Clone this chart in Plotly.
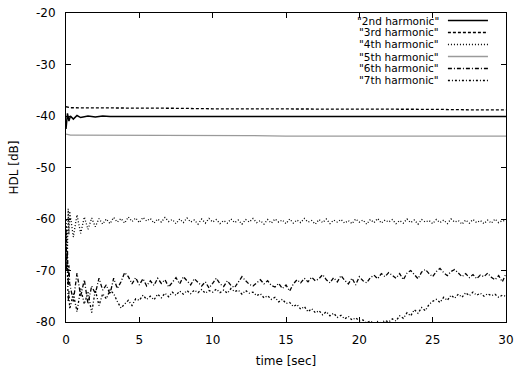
import numpy as np
import plotly.graph_objects as go

# ---- data ----
# fine time grid (sec) for the noisy harmonics
time_early = [0.0, 0.05, 0.1, 0.15, 0.2]
time_fine = time_early + [round(v, 2) for v in np.arange(0.25, 30.001, 0.25)]
# coarse time grid for the nearly constant harmonics
time_coarse = [0, 0.1, 0.2, 0.3, 0.5, 0.75, 1, 1.5, 2, 2.5, 3, 5, 7.5, 10,
               12.5, 15, 17.5, 20, 22.5, 25, 27.5, 30]

h2 = [-42.5, -39.5, -41.0, -40.0, -40.6, -39.9, -40.3, -40.0, -40.2, -40.0, -40.1,
      -40.1, -40.1, -40.1, -40.1, -40.1, -40.1, -40.1, -40.1, -40.1, -40.1, -40.1]
h3 = [-38.2, -38.3, -38.3, -38.4, -38.4, -38.4, -38.4, -38.4, -38.4, -38.5, -38.5,
      -38.5, -38.5, -38.6, -38.6, -38.6, -38.7, -38.7, -38.7, -38.7, -38.8, -38.8]
h5 = [-43.5, -43.6, -43.7, -43.7, -43.7, -43.7, -43.7, -43.7, -43.7, -43.7, -43.8,
      -43.8, -43.8, -43.8, -43.8, -43.9, -43.9, -43.9, -43.8, -43.9, -43.9, -43.9]

h4 = [-70, -62, -66, -58, -63,
      -58.5, -63.5, -59.2, -62.8, -59.6, -62.0, -59.8, -61.5, -59.9, -61.0,
      -60.0, -60.9, -59.7, -60.6, -59.9, -60.8, -59.6, -60.5, -59.8, -60.7,
      -59.7, -60.4, -59.9, -60.8, -60.0, -60.6, -59.7, -60.5, -60.1, -60.9,
      -60.0, -60.7, -59.8, -60.6, -60.2, -61.0, -60.0, -60.8, -59.9, -60.6,
      -60.1, -60.9, -60.3, -60.8, -60.0, -60.7, -60.2, -61.0, -60.1, -60.6,
      -59.9, -60.7, -60.3, -61.0, -60.1, -60.8, -60.0, -60.6, -60.2, -60.9,
      -60.0, -60.8, -60.2, -60.7, -59.9, -60.6, -60.3, -61.0, -60.1, -60.7,
      -60.0, -60.9, -60.2, -60.6, -60.1, -60.8, -60.3, -60.9, -60.0, -60.6,
      -60.2, -61.0, -60.1, -60.7, -59.9, -60.8, -60.2, -60.6, -60.1, -60.9,
      -60.3, -60.8, -60.0, -60.7, -60.2, -61.0, -60.1, -60.6, -60.3, -60.9,
      -60.1, -60.7, -60.2, -60.9, -60.0, -60.6, -60.3, -61.0, -60.2, -60.8,
      -60.1, -60.7, -60.3, -60.9, -60.2, -60.8, -60.0, -60.7, -60.3, -60.4]

h6 = [-62, -70, -66, -73, -69,
      -72.5, -76.0, -70.5, -75.0, -71.8, -76.5, -73.0, -74.5, -71.5, -73.8,
      -72.8, -74.6, -71.5, -73.5, -72.2, -70.4, -71.2, -72.6, -71.4, -72.8,
      -71.6, -73.0, -72.0, -72.9, -71.5, -72.5, -71.8, -73.2, -72.2, -71.4,
      -72.6, -71.2, -72.0, -72.8, -71.6, -72.4, -73.0, -72.2, -73.4, -72.5,
      -71.5, -72.6, -73.1, -72.0, -72.9, -73.3, -72.2, -71.2, -72.0, -72.7,
      -73.0, -72.4, -71.8, -72.6, -72.0, -72.9, -73.2, -72.5, -73.5, -72.8,
      -74.0, -72.6, -71.8, -72.4, -71.5, -72.2, -71.3, -72.0, -71.6, -70.8,
      -71.8, -72.4, -71.4, -72.2, -71.0, -71.9, -72.6, -71.5, -72.8, -71.2,
      -72.0, -72.4, -71.4, -70.9, -71.6, -70.6, -71.2, -70.4, -71.0, -71.5,
      -70.6, -71.8, -70.5, -70.0, -70.8, -71.6, -70.3, -69.8, -70.6, -71.2,
      -70.2, -69.6, -70.4, -71.0, -70.2, -69.8, -70.5, -71.2, -70.6, -71.4,
      -70.8, -71.6, -70.9, -71.2, -70.5, -71.3, -71.8, -71.0, -72.2, -70.6]

h7 = [-60, -68, -72, -76, -74,
      -77.5, -74.5, -78.0, -73.5, -76.5, -74.2, -78.2, -73.8, -76.8, -74.5,
      -75.5, -73.8, -74.5, -76.0, -77.3, -76.5, -75.8, -76.8, -75.5, -75.8,
      -74.8, -75.6, -75.0, -75.7, -74.6, -75.3, -74.4, -75.1, -74.2, -74.8,
      -74.0, -74.6, -73.9, -74.5, -73.8, -74.3, -73.7, -74.4, -73.9, -74.2,
      -73.6, -74.3, -73.8, -74.4, -73.5, -74.1, -73.8, -74.6, -73.9, -74.4,
      -74.2, -74.9, -74.5, -75.3, -74.9, -75.6, -75.2, -76.1, -75.6, -76.4,
      -76.2, -77.0, -76.6, -77.5, -77.0, -78.0, -77.4, -78.2, -77.8, -78.6,
      -78.0, -78.8, -78.3, -79.1, -78.7, -79.4, -78.9, -79.6, -79.2, -79.8,
      -79.6, -80.2, -79.8, -80.3, -79.9, -80.2, -79.7, -80.0, -79.4, -79.8,
      -78.8, -79.3, -78.2, -78.8, -77.6, -78.3, -77.2, -77.8, -76.6, -76.0,
      -75.6, -76.2, -75.2, -75.8, -74.8, -75.4, -74.6, -75.2, -74.3, -74.9,
      -74.2, -74.8, -74.4, -75.0, -74.5, -74.9, -74.6, -75.2, -74.8, -75.0]

names = ['"2nd harmonic"', '"3rd harmonic"', '"4th harmonic"',
         '"5th harmonic"', '"6th harmonic"', '"7th harmonic"']
x_ticks = [0, 5, 10, 15, 20, 25, 30]
y_ticks = [-80, -70, -60, -50, -40, -30, -20]

series = [
    (time_coarse, h2, dict(color="black", width=1.5, dash="solid")),
    (time_coarse, h3, dict(color="black", width=1.3, dash="3px,2px")),
    (time_fine, h4, dict(color="black", width=1.3, dash="1px,2px")),
    (time_coarse, h5, dict(color="#9a9a9a", width=1.3, dash="solid")),
    (time_fine, h6, dict(color="black", width=1.3, dash="4px,2px,1px,2px")),
    (time_fine, h7, dict(color="black", width=1.3, dash="2px,2px,1px,2px")),
]

FONT = "DejaVu Sans, Verdana, sans-serif"

fig = go.Figure()
for (t, v, ln), nm in zip(series, names):
    fig.add_trace(go.Scatter(x=t, y=v, mode="lines", name=nm, line=ln,
                             showlegend=False))

# gnuplot-style key: text then line sample, top-right inside the plot
key_rows = [0.9757, 0.9369, 0.8981, 0.8592, 0.8204, 0.7816]
for (t, v, ln), nm, yy in zip(series, names, key_rows):
    fig.add_annotation(x=0.85, y=yy, xref="paper", yref="paper", text=nm,
                       showarrow=False, xanchor="right", yanchor="middle",
                       borderpad=0,
                       font=dict(family=FONT, size=10.5, color="black"))
    fig.add_shape(type="line", xref="paper", yref="paper", x0=0.868, x1=0.959,
                  y0=yy, y1=yy, line=ln)

axis_common = dict(showline=True, linecolor="black", linewidth=1, mirror="ticks",
                   ticks="inside", ticklen=5, tickcolor="black", showgrid=False,
                   zeroline=False, ticklabeloverflow="allow", automargin=False,
                   tickfont=dict(family=FONT, size=12, color="black"))

fig.update_xaxes(range=[0, 30], tickvals=x_ticks, ticktext=[str(v) for v in x_ticks],
                 title=dict(text="time [sec]", font=dict(family=FONT, size=12, color="black"),
                            standoff=10),
                 ticklabelstandoff=7, **axis_common)
fig.update_yaxes(range=[-80, -20], tickvals=y_ticks, ticktext=[str(v) for v in y_ticks],
                 title=dict(text="HDL [dB]", font=dict(family=FONT, size=12, color="black"),
                            standoff=14),
                 ticklabelstandoff=7, **axis_common)

fig.update_layout(width=515, height=369,
                  margin=dict(l=66, r=9, t=13, b=47),
                  paper_bgcolor="white", plot_bgcolor="white",
                  font=dict(family=FONT, size=12, color="black"))

# remove the page's default body margin so the figure fills the window exactly
fig.write_html("out.html",
               config={"displayModeBar": False},
               post_script="document.body.style.margin='0';"
                           "document.body.style.overflow='hidden';")
